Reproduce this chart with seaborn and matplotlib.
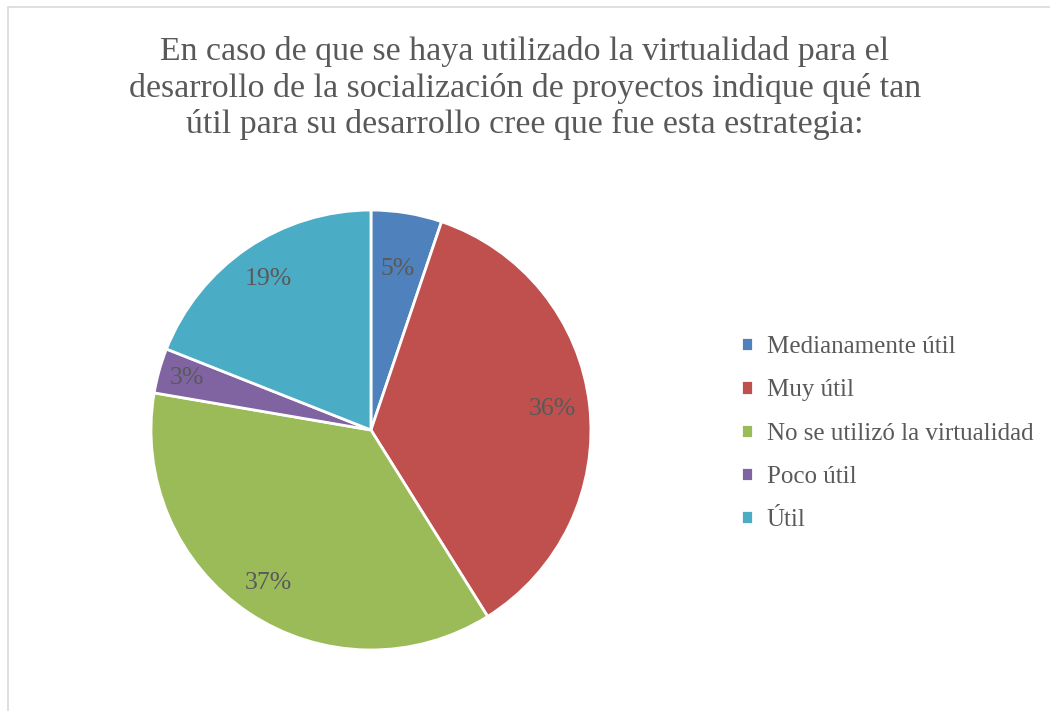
import matplotlib
matplotlib.use("Agg")
import numpy as np
import matplotlib.pyplot as plt
import seaborn as sns
from matplotlib.patches import Rectangle

sns.set_theme(style="white")
plt.rcParams['font.family'] = ['Liberation Serif', 'DejaVu Serif']

categories = ['Medianamente útil', 'Muy útil', 'No se utilizó la virtualidad',
              'Poco útil', 'Útil']
values = [5.2, 35.9, 36.6, 3.3, 19.0]
colors = sns.color_palette(['#4F81BD', '#C0504D', '#9BBB59', '#8064A2', '#4BACC6'])
text_color = '#595959'

fig = plt.figure(figsize=(10.5, 7.11), dpi=100)
fig.patches.append(Rectangle((0.0076, -0.01), 1.0, 1.0, transform=fig.transFigure,
                             fill=False, edgecolor='#d9d9d9', linewidth=1.2))

ax = fig.add_axes([0.1438, 0.0858, 0.419, 0.6188])
wedges, texts, autotexts = ax.pie(
    values, colors=colors, startangle=90, counterclock=False,
    autopct='%.0f%%', pctdistance=0.82,
    wedgeprops=dict(edgecolor='white', linewidth=2),
    textprops=dict(color=text_color, fontsize=18.5))

# label distance from the centre, per slice (like Excel's best fit)
label_r = [0.74, 0.83, 0.84, 0.87, 0.83]
for w, t, r in zip(wedges, autotexts, label_r):
    ang = np.deg2rad((w.theta1 + w.theta2) / 2)
    t.set_position((r * np.cos(ang), r * np.sin(ang)))

ax.set_xlim(-1, 1)
ax.set_ylim(-1, 1)
ax.set_aspect('equal')
ax.axis('off')

fig.text(0.5, 0.876,
         'En caso de que se haya utilizado la virtualidad para el\n'
         'desarrollo de la socialización de proyectos indique qué tan\n'
         'útil para su desarrollo cree que fue esta estrategia:',
         ha='center', va='center', fontsize=24.4, color=text_color,
         linespacing=1.22)

leg = fig.legend(wedges, categories, loc='center left',
                 bbox_to_anchor=(0.684, 0.39), frameon=False,
                 fontsize=18, handlelength=0.5, handleheight=0.5,
                 handletextpad=0.55, labelspacing=0.85)
for t in leg.get_texts():
    t.set_color(text_color)

fig.savefig('out.png', dpi=100)
